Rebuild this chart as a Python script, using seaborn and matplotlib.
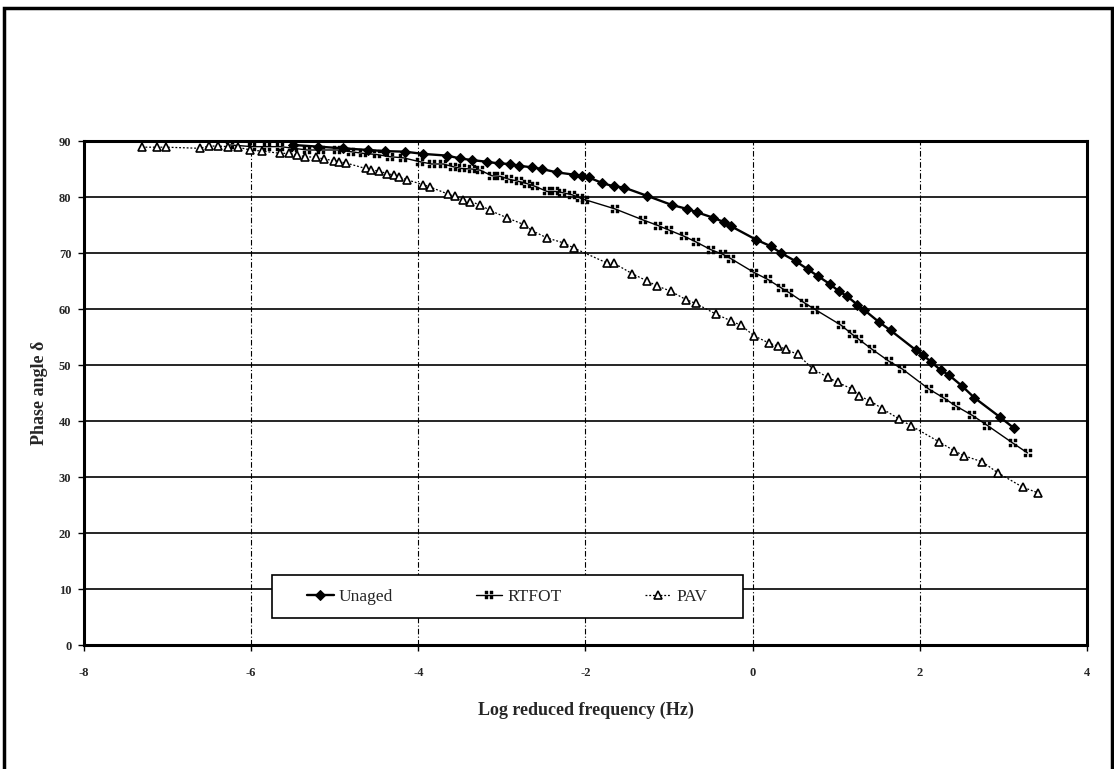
import numpy as np
import pandas as pd
import matplotlib
matplotlib.use("Agg")
import matplotlib.pyplot as plt
import seaborn as sns
from matplotlib.path import Path
from matplotlib.patches import Rectangle

# Phase angle master curves
unaged_x = [-5.5, -5.2, -4.9, -4.6, -4.4, -4.16, -3.94, -3.66, -3.5, -3.36, -3.18, -3.04, -2.9, -2.8,
            -2.64, -2.52, -2.34, -2.14, -2.04, -1.96, -1.8, -1.66, -1.54, -1.26, -0.97, -0.79, -0.67,
            -0.47, -0.34, -0.26, 0.04, 0.22, 0.34, 0.52, 0.66, 0.78, 0.93, 1.03, 1.13, 1.25, 1.33,
            1.51, 1.65, 1.95, 2.04, 2.13, 2.25, 2.35, 2.51, 2.65, 2.96, 3.13]
unaged_y = [89.3, 89.0, 88.7, 88.4, 88.2, 88.1, 87.7, 87.4, 86.9, 86.6, 86.3, 86.0, 85.9, 85.6,
            85.3, 85.0, 84.4, 84.0, 83.7, 83.5, 82.5, 81.9, 81.7, 80.2, 78.6, 77.9, 77.3,
            76.3, 75.5, 74.8, 72.4, 71.2, 70.0, 68.5, 67.1, 65.9, 64.4, 63.2, 62.3, 60.8, 59.9,
            57.7, 56.2, 52.7, 51.8, 50.6, 49.1, 48.2, 46.2, 44.2, 40.7, 38.7]

rtfot_x = [-6.25, -5.99, -5.81, -5.65, -5.49, -5.33, -5.17, -4.97, -4.81, -4.66, -4.5, -4.34, -4.18,
           -3.98, -3.84, -3.7, -3.58, -3.48, -3.36, -3.26, -3.12, -3.02, -2.92, -2.8, -2.7, -2.6,
           -2.46, -2.36, -2.28, -2.16, -2.06, -2.0, -1.65, -1.31, -1.13, -1.0, -0.82, -0.68, -0.5,
           -0.36, -0.26, 0.02, 0.18, 0.34, 0.44, 0.62, 0.75, 1.06, 1.19, 1.27, 1.43, 1.63, 1.79,
           2.11, 2.29, 2.43, 2.63, 2.81, 3.11, 3.29]
rtfot_y = [89.3, 89.0, 89.0, 89.0, 88.7, 88.4, 88.4, 88.4, 88.1, 87.8, 87.6, 87.2, 87.0,
           86.3, 85.9, 85.9, 85.4, 85.1, 85.0, 84.8, 83.8, 83.7, 83.2, 82.8, 82.4, 81.9,
           81.0, 81.0, 80.8, 80.4, 79.8, 79.5, 77.9, 75.9, 74.9, 74.1, 73.0, 72.0, 70.6,
           69.8, 69.0, 66.5, 65.3, 63.8, 62.9, 61.1, 59.9, 57.1, 55.5, 54.6, 52.8, 50.7, 49.3,
           45.7, 44.1, 42.7, 41.0, 39.2, 36.1, 34.3]

pav_x = [-7.31, -7.13, -7.02, -6.61, -6.51, -6.4, -6.28, -6.16, -6.01, -5.87, -5.65, -5.55, -5.45,
         -5.35, -5.23, -5.13, -5.01, -4.95, -4.87, -4.63, -4.57, -4.47, -4.37, -4.29, -4.23, -4.14,
         -3.94, -3.86, -3.64, -3.56, -3.46, -3.38, -3.26, -3.14, -2.94, -2.74, -2.64, -2.46, -2.26,
         -2.14, -1.74, -1.66, -1.44, -1.26, -1.14, -0.98, -0.8, -0.68, -0.44, -0.26, -0.14, 0.02,
         0.2, 0.3, 0.4, 0.54, 0.72, 0.9, 1.02, 1.19, 1.27, 1.41, 1.55, 1.75, 1.89, 2.23, 2.41,
         2.53, 2.75, 2.93, 3.23, 3.41]
pav_y = [88.9, 88.9, 88.9, 88.7, 89.1, 89.1, 89.0, 88.9, 88.4, 88.2, 87.8, 87.8, 87.5,
         87.2, 87.1, 86.8, 86.5, 86.3, 86.1, 85.1, 84.9, 84.6, 84.2, 83.9, 83.6, 83.1,
         82.2, 81.8, 80.5, 80.1, 79.5, 79.2, 78.6, 77.6, 76.3, 75.1, 74.0, 72.7, 71.8,
         70.9, 68.2, 68.2, 66.3, 65.0, 64.1, 63.2, 61.7, 61.0, 59.1, 57.9, 57.1, 55.2,
         53.9, 53.4, 52.8, 51.9, 49.3, 47.8, 46.9, 45.7, 44.5, 43.6, 42.2, 40.4, 39.2, 36.3, 34.7,
         33.8, 32.7, 30.8, 28.2, 27.2]

x_ticks = [-8, -6, -4, -2, 0, 2, 4]
y_ticks = [0, 10, 20, 30, 40, 50, 60, 70, 80, 90]

# "::" style marker like the scanned RTFOT symbol
verts, codes = [], []
for cx, cy in [(-0.55, -0.55), (0.55, -0.55), (-0.55, 0.55), (0.55, 0.55)]:
    h = 0.4
    verts += [(cx - h, cy - h), (cx + h, cy - h), (cx + h, cy + h), (cx - h, cy + h), (0, 0)]
    codes += [Path.MOVETO, Path.LINETO, Path.LINETO, Path.LINETO, Path.CLOSEPOLY]
blocks = Path(verts, codes)

sns.set_style("white")
plt.rcParams['font.family'] = ['Liberation Serif', 'DejaVu Serif']
plt.rcParams['axes.unicode_minus'] = False

fig = plt.figure(figsize=(11.14, 7.69), dpi=100)
ax = fig.add_axes([0.0754, 0.1612, 0.9003, 0.6554])

sns.lineplot(x=unaged_x, y=unaged_y, ax=ax, color='black', lw=1.7, marker='D', markersize=5,
             markerfacecolor='black', markeredgecolor='black', sort=False, errorbar=None, label='Unaged')
sns.lineplot(x=rtfot_x, y=rtfot_y, ax=ax, color='black', lw=1.0, marker=blocks, markersize=6,
             markerfacecolor='black', markeredgecolor='black', markeredgewidth=0.3,
             sort=False, errorbar=None, label='RTFOT')
sns.lineplot(x=pav_x, y=pav_y, ax=ax, color='black', lw=0.9, linestyle=(0, (1.5, 1.5)), marker='^',
             markersize=6, markerfacecolor='white', markeredgecolor='black', markeredgewidth=1.2,
             sort=False, errorbar=None, label='PAV')

ax.set_xlim(-8, 4)
ax.set_ylim(0, 90)
ax.set_xticks(x_ticks)
ax.set_yticks(y_ticks)
ax.set_axisbelow(True)
ax.yaxis.grid(True, color='black', lw=1.2, ls='-')
ax.xaxis.grid(True, color='black', lw=0.8, ls=(0, (5, 2, 1, 2)))
for s in ax.spines.values():
    s.set_linewidth(2.2)
    s.set_color('black')

ax.tick_params(axis='both', which='major', direction='out', length=4, width=1, color='black',
               labelsize=9, left=True, bottom=True)
ax.tick_params(axis='x', pad=12)
ax.tick_params(axis='y', pad=5)
for lab in ax.get_xticklabels() + ax.get_yticklabels():
    lab.set_fontweight('bold')

ax.set_xlabel("Log reduced frequency (Hz)", fontsize=13, fontweight='bold', labelpad=16)
ax.set_ylabel("Phase angle δ", fontsize=13, fontweight='bold', labelpad=8)

# legend box drawn separately so its margins match the original
box = Rectangle((0.1874, 0.0536), 0.4696, 0.0853, transform=ax.transAxes, facecolor='white',
                edgecolor='black', lw=1.2, zorder=4)
ax.add_patch(box)
leg = ax.legend(loc='center', bbox_to_anchor=(0.4222, 0.0962), ncol=3, frameon=False,
                fontsize=12.5, handlelength=1.5, handletextpad=0.3, columnspacing=4.8)
leg.set_zorder(5)

fig.patches.append(Rectangle((0.004, -0.02), 0.994, 1.0096, transform=fig.transFigure,
                             fill=False, lw=2.5, ec='black'))

plt.savefig('out.png', dpi=100)
